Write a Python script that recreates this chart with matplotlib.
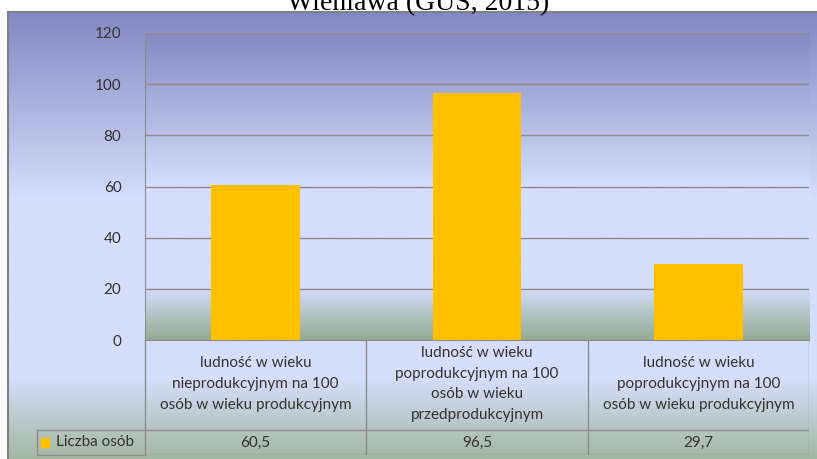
import numpy as np
import matplotlib.pyplot as plt
from matplotlib.colors import to_rgb
from matplotlib.patches import Rectangle

categories = [
    "ludność w wieku\nnieprodukcyjnym na 100\nosób w wieku produkcyjnym",
    "ludność w wieku\npoprodukcyjnym na 100\nosób w wieku\nprzedprodukcyjnym",
    "ludność w wieku\npoprodukcyjnym na 100\nosób w wieku produkcyjnym",
]
values = [60.5, 96.5, 29.7]
value_labels = ["60,5", "96,5", "29,7"]
series_name = "Liczba osób"
yticks = [0, 20, 40, 60, 80, 100, 120]
title = "Wieniawa (GUS, 2015)"

W, H = 817, 459
plt.rcParams['font.family'] = ['Lato', 'DejaVu Sans']


def gradient(stops, n):
    # stops: list of (fraction, colour), rows top -> bottom
    pos = [s[0] for s in stops]
    cols = np.array([to_rgb(s[1]) for s in stops])
    t = np.linspace(0, 1, n)
    img = np.stack([np.interp(t, pos, cols[:, k]) for k in range(3)], axis=1)
    return img[:, None, :]


def fx(px):
    return px / W


def fy(py):
    return 1 - py / H


fig = plt.figure(figsize=(W / 100, H / 100), dpi=100)
fig.patch.set_facecolor('white')

# chart area background
ch_l, ch_t = 8, 12
bg = fig.add_axes([fx(ch_l), 0, 1 - fx(ch_l), fy(ch_t)])
bg.imshow(gradient([(0, '#8388c2'), (0.42, '#d5defb'), (0.82, '#d5defb'),
                    (1, '#a3b7a1')], 400), aspect='auto', extent=[0, 1, 0, 1])
bg.set_xlim(0, 1)
bg.set_ylim(0, 1)
bg.set_xticks([])
bg.set_yticks([])
for s in ['right', 'bottom']:
    bg.spines[s].set_visible(False)
for s in ['left', 'top']:
    bg.spines[s].set_color('#808080')
    bg.spines[s].set_linewidth(1.5)

# plot area
pl, pr, pt, pb = 145, 809, 33, 340
ax = fig.add_axes([fx(pl), fy(pb), fx(pr - pl), (pb - pt) / H])
ax.imshow(gradient([(0, '#8589c3'), (0.5, '#d5defb'), (0.83, '#d5defb'),
                    (1, '#95ab92')], 400), aspect='auto',
          extent=[-0.5, 2.5, 0, 120], zorder=0)
x = np.arange(len(values))
ax.bar(x, values, width=0.4, color='#ffc000', zorder=3)
ax.set_xlim(-0.5, 2.5)
ax.set_ylim(0, 120)
ax.set_yticks(yticks)
ax.set_yticklabels([str(v) for v in yticks], fontsize=11, color='#333333')
ax.tick_params(axis='y', length=0, pad=17)
ax.set_xticks([])
ax.grid(axis='y', color='#8c8c8c', linewidth=1, zorder=1)
for s in ['right', 'top']:
    ax.spines[s].set_visible(False)
ax.spines['left'].set_color('#8c8c8c')
ax.spines['bottom'].set_color('#8c8c8c')

# data table under the axis
tb = 455
row_split = 430
head_l = 37
tax = fig.add_axes([fx(pl), fy(tb), fx(pr - pl), (tb - pb) / H])
tax.set_xlim(-0.5, 2.5)
tax.set_ylim(0, tb - pb)
tax.axis('off')
ysplit = tb - row_split
lc = '#8c8c8c'
tax.plot([-0.5, 2.5], [ysplit, ysplit], color=lc, lw=1)
tax.plot([-0.5, 2.5], [0, 0], color=lc, lw=1)
for b in [0.5, 1.5, 2.5]:
    tax.plot([b, b], [0, tb - pb], color=lc, lw=1)
# header cell for the series name, extends left of the plot
hx0 = -0.5 - (pl - head_l) / (pr - pl) * 3
tax.plot([hx0, -0.5], [ysplit, ysplit], color=lc, lw=1, clip_on=False)
tax.plot([hx0, -0.5], [0, 0], color=lc, lw=1, clip_on=False)
tax.plot([hx0, hx0], [0, ysplit], color=lc, lw=1, clip_on=False)
tax.plot([-0.5, -0.5], [0, tb - pb], color=lc, lw=1, clip_on=False)
key = 8 / (pr - pl) * 3
tax.add_patch(Rectangle((hx0 + 4 / (pr - pl) * 3, ysplit / 2 - 4.5), key, 9,
                        color='#ffc000', clip_on=False))
tax.text(hx0 + 19 / (pr - pl) * 3, ysplit / 2, series_name, fontsize=11,
         color='#333333', va='center', ha='left')
for i, (cat, lab) in enumerate(zip(categories, value_labels)):
    tax.text(i, (tb - pb + ysplit) / 2 + 1, cat, fontsize=11, color='#333333',
             ha='center', va='center', linespacing=1.62)
    tax.text(i, ysplit / 2, lab, fontsize=11, color='#333333',
             ha='center', va='center')

fig.text(fx(418), fy(10), title, fontsize=20, family='Liberation Serif',
         ha='center', va='baseline', color='black')

fig.savefig('out.png', dpi=100)
